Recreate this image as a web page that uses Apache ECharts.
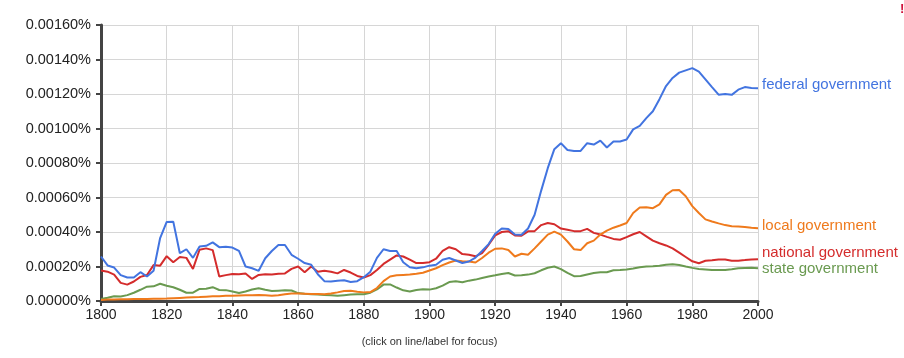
<!DOCTYPE html>
<html>
<head>
<meta charset="utf-8">
<script src="https://cdn.jsdelivr.net/npm/echarts@6/dist/echarts.min.js"></script>
<style>
html,body{margin:0;padding:0;background:#fff;}
#chart{width:904px;height:358px;}
</style>
</head>
<body>
<div id="chart"></div>
<script>
// Years 1800..2000, every 2 years
var years = [];
for (var y = 1800; y <= 2000; y += 2) years.push(y);

// Values in units of 0.00001 %
var federal = [25.8,20.6,19.4,15,13.6,13.6,16.7,14.2,17.5,36.5,
  45.8,46,27.7,30,25,31.6,32,34,31.2,31.5,
  31,29,20,19,17.5,24.8,29,32.5,32.5,26.8,
  24.5,22,21,15.5,11.5,11.3,11.8,12,11,11.5,
  13.8,17,25,30,29,29,22.5,19.6,19,19.5,
  20.5,21,23.9,24.9,23.5,22,22.9,25.2,29,33,
  39,42,41.8,38.5,38.4,42,50,64,77,88,
  91.5,87.5,87,87,91.5,90.7,93,89,92.5,92.5,
  93.6,99.5,101.5,106,110,117,124.6,129.3,132.4,133.7,
  135,133,128.5,124,119.6,120,119.5,122.5,124,123.5,123.3];

var local = [0.6,0.8,0.9,1,1,1.1,1.2,1.2,1.3,1.3,
  1.4,1.6,1.8,2,2.2,2.3,2.5,2.7,2.8,3,
  3.1,3.2,3.3,3.4,3.5,3.3,3,3.3,3.9,4.3,
  4.3,4.2,4.1,4,3.9,4.3,5,5.8,6,5.3,
  5,5.2,7.5,11.5,14.2,14.9,15.1,15.3,15.8,16.4,
  17.7,19,20.8,22.3,23.5,23,22.9,22.3,24.9,28,
  30.3,30.5,29.6,25.8,27.4,26.8,30.5,34.5,38.5,40.2,
  38.5,34.5,30,29.5,33.5,35,38.5,40.8,42.5,43.8,
  45.2,51,54.2,54.3,53.8,56,61.5,64.2,64.3,60.7,
  55,51,47.3,46.1,45,44,43.3,43.2,42.9,42.5,42.2];

var national = [17.7,17,15.3,10.5,9.5,11.3,14,15.1,20.8,20.5,
  26,22.5,25.5,25,18.6,29.7,30.5,29.5,14.2,15,
  15.6,15.5,16,12.8,15.1,15.5,15.3,15.8,16,18.6,
  20,16.7,20,17,17.5,17,16,18,16.5,14.5,
  13.6,15,18,21.5,24,26.4,25.8,24,22,22,
  22.5,24.5,29,31.2,30,27.2,26.8,25.9,27.8,32.6,
  38,40,40.5,38,37.8,40.4,40.5,44,45.2,44.5,
  42,41.3,40.5,40.5,41.8,39.5,38.5,37.2,36,35.5,
  37,38.7,40,37.5,35,33.5,32.2,30.5,28,25.5,
  23,21.9,23.3,23.6,24,24,23.3,23.4,23.7,24.1,24.2];

var state = [1.2,1.9,2.8,2.6,3.4,4.8,6.5,8.3,8.5,10,
  8.8,8,6.5,4.8,4.8,7,7.1,8,6.4,6.3,
  5.5,4.6,5.5,6.7,7.4,6.5,5.8,6,6.2,6.1,
  4.6,4.2,3.9,3.7,3.5,3.3,3.1,3.4,3.7,3.9,
  3.9,4.8,6.7,9.5,9.6,7.8,6.2,5.5,6.4,6.8,
  6.6,7.4,8.9,11,11.4,10.9,11.8,12.4,13.3,14.2,
  14.9,15.7,16.2,14.8,14.9,15.3,16.1,17.8,19.3,20,
  18.5,16.3,14.4,14.5,15.4,16.2,16.7,16.7,17.8,18,
  18.3,18.8,19.6,20,20.2,20.5,21,21.3,20.9,20,
  19.2,18.6,18.3,18,18,18,18.4,19,19.2,19.3,19];

var seriesNames = ['federal government','local government','national government','state government'];
var yTicks = [0,20,40,60,80,100,120,140,160];

function pairs(vals){ return years.map(function(yr,i){ return [yr, vals[i]]; }); }

var FONT = 'Liberation Sans, Arial, Helvetica, sans-serif';
var colors = ['#4274e0','#ef7a1c','#d42c2c','#6a9a50'];
var labelOffsets = [-3,-2,-6,1];
var dataSets = [federal, local, national, state];

var series = dataSets.map(function(d, i){
  return {
    name: seriesNames[i],
    type: 'line',
    data: pairs(d),
    showSymbol: false,
    symbol: 'none',
    smooth: false,
    lineStyle: {width: 2, color: colors[i]},
    itemStyle: {color: colors[i]},
    z: 3 + (3 - i),
    endLabel: {
      show: true,
      formatter: seriesNames[i],
      color: colors[i],
      fontSize: 15,
      fontFamily: FONT,
      distance: 4,
      offset: [0, labelOffsets[i]]
    },
    emphasis: {disabled: true}
  };
});

var chart = echarts.init(document.getElementById('chart'), null, {renderer: 'canvas'});
chart.setOption({
  animation: false,
  backgroundColor: '#fff',
  textStyle: {fontFamily: FONT},
  grid: {left: 101, right: 146, top: 25, bottom: 57, containLabel: false},
  xAxis: {
    type: 'value', min: 1800, max: 2000, interval: 20,
    axisLine: {show: true, onZero: false, lineStyle: {color: '#444', width: 3}},
    axisTick: {show: true, length: 5, lineStyle: {color: '#444', width: 2}},
    axisLabel: {color: '#222', fontSize: 14, margin: 7, fontFamily: FONT,
      formatter: function(v){ return String(v); }},
    splitLine: {show: true, lineStyle: {color: '#d6d6d6', width: 1}}
  },
  yAxis: {
    type: 'value', min: yTicks[0], max: yTicks[yTicks.length-1], interval: 20,
    axisLine: {show: true, lineStyle: {color: '#444', width: 3}},
    axisTick: {show: true, length: 5, lineStyle: {color: '#444', width: 2}},
    axisLabel: {color: '#222', fontSize: 14.5, margin: 10, fontFamily: FONT,
      formatter: function(v){ return (v/100000).toFixed(5) + '%'; }},
    splitLine: {show: true, lineStyle: {color: '#d6d6d6', width: 1}}
  },
  graphic: [
    {type: 'text', x: 429.5, y: 342,
      style: {text: '(click on line/label for focus)', fill: '#333', fontSize: 11,
        fontFamily: FONT, align: 'center', verticalAlign: 'middle'}},
    {type: 'text', x: 900, y: 3,
      style: {text: '!', fill: '#d0103a', fontSize: 13, fontWeight: 'bold',
        fontFamily: FONT}}
  ],
  series: series
});
</script>
</body>
</html>
